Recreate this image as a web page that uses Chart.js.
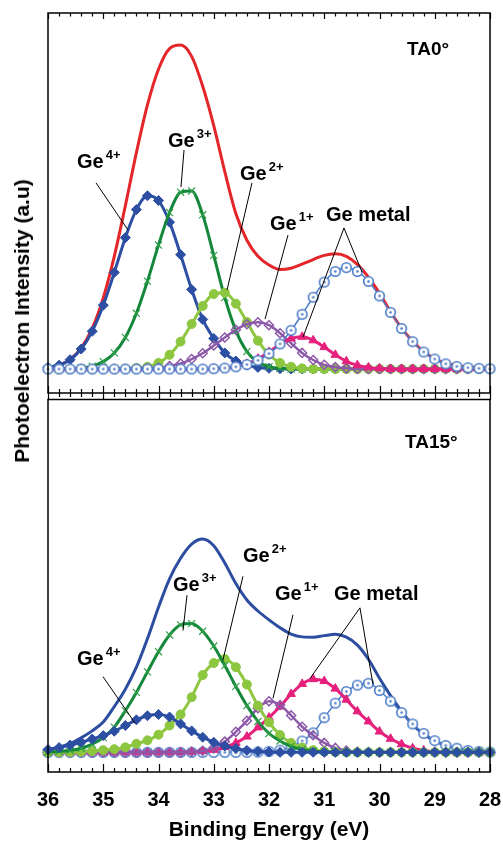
<!DOCTYPE html>
<html>
<head>
<meta charset="utf-8">
<script src="https://cdn.jsdelivr.net/npm/chart.js@4.4.1/dist/chart.umd.min.js"></script>
<style>
  html, body { margin: 0; padding: 0; background: #fff; }
  #wrap { position: relative; width: 503px; height: 841px; overflow: hidden; background: #fff; }
  #cTop { position: absolute; left: 0; top: 0; }
  #cBot { position: absolute; left: 0; top: 393px; }
  #ytitle { position: absolute; left: 22px; top: 321px; transform: translate(-50%, -50%) rotate(-90deg);
            font: bold 21px "Liberation Sans", Arial, sans-serif; white-space: nowrap; color: #000; }
</style>
</head>
<body>
<div id="wrap">
  <canvas id="cTop" width="503" height="400"></canvas>
  <canvas id="cBot" width="503" height="448"></canvas>
  <div id="ytitle">Photoelectron Intensity (a.u)</div>
</div>
<script>
// ---------------- DATA ----------------
const energy = [36.0,35.8,35.6,35.4,35.2,35.0,34.8,34.6,34.4,34.2,34.0,33.8,33.6,33.4,33.2,33.0,32.8,32.6,32.4,32.2,32.0,31.8,31.6,31.4,31.2,31.0,30.8,30.6,30.4,30.2,30.0,29.8,29.6,29.4,29.2,29.0,28.8,28.6,28.4,28.2,28.0];
const xTickValues = [36,35,34,33,32,31,30,29,28];

// Panel TA0°
const ta0Ge4   = [0.5,1.2,2.9,6.2,11.7,19.8,30.0,40.8,49.5,53.8,52.3,45.6,35.5,24.7,15.4,9.5,5.0,2.5,1.2,0.5,0.2,0.1,0,0,0,0,0,0,0,0,0,0,0,0,0,0,0,0,0,0,0];
const ta0Ge3   = [0,0,0.1,0.3,0.9,2.3,5.0,9.8,17.3,27.3,38.5,48.6,54.9,55.3,47.9,35.3,22.2,11.9,5.4,2.1,0.7,0.2,0,0,0,0,0,0,0,0,0,0,0,0,0,0,0,0,0,0,0];
const ta0Ge2   = [0,0,0,0,0,0,0,0.1,0.3,0.7,1.9,4.4,8.5,14.0,19.6,23.3,23.7,20.3,14.6,8.8,4.5,1.9,0.7,0.2,0,0,0,0,0,0,0,0,0,0,0,0,0,0,0,0,0];
const ta0Ge1   = [0,0,0,0,0,0,0,0,0.1,0.2,0.4,0.9,1.7,3.1,4.9,7.3,9.8,12.2,13.9,14.5,13.6,11.1,8.0,5.0,2.8,1.3,0.6,0.2,0,0,0,0,0,0,0,0,0,0,0,0,0];
const ta0MetalA = [0,0,0,0,0,0,0,0,0,0,0,0,0,0,0,0.1,0.3,0.7,1.6,3.2,5.3,7.7,9.5,10.0,8.9,6.8,4.4,2.4,1.2,0.5,0.2,0,0,0,0,0,0,0,0,0,0];
const ta0MetalB = [0,0,0,0,0,0,0,0,0,0,0,0,0,0,0,0.1,0.3,0.7,1.4,2.7,4.8,7.8,12.0,17.0,22.3,27.0,30.3,31.5,30.3,27.2,22.7,17.6,12.6,8.5,5.3,3.1,1.6,0.8,0.4,0.2,0.1];
const ta0Total = [0.5,1.2,3.0,6.5,12.6,22.1,35.0,50.7,67.2,82.0,93.1,99.5,100.6,97.1,87.8,75.6,61.3,48.3,40.0,35.0,32.3,30.9,31.3,32.6,34.0,35.3,35.8,35.0,32.5,28.5,23.5,17.8,12.7,8.6,5.4,3.2,1.8,1.0,0.6,0.4,0.3];

// Panel TA15°
const ta15Ge4   = [0.9,1.5,2.3,3.2,4.2,5.3,6.7,8.5,10.3,11.6,12.0,11.2,9.0,6.8,4.8,3.2,2.0,1.2,0.6,0.3,0.1,0,0,0,0,0,0,0,0,0,0,0,0,0,0,0,0,0,0,0,0];
const ta15Ge3   = [0.1,0.3,0.6,1.3,2.6,4.7,8.0,13.2,19.0,25.5,31.9,37.2,40.4,40.8,38.4,33.7,27.5,20.9,14.8,9.8,6.0,3.6,1.9,0.9,0.4,0.2,0.1,0,0,0,0,0,0,0,0,0,0,0,0,0,0];
const ta15Ge2   = [0,0,0.1,0.2,0.4,0.7,1.0,1.6,2.7,3.8,5.6,8.5,12.0,17.5,24.5,28.3,29.6,27.0,21.5,14.8,9.5,5.5,3.0,1.5,0.7,0.3,0.1,0,0,0,0,0,0,0,0,0,0,0,0,0,0];
const ta15Ge1   = [0,0,0,0,0,0,0,0,0,0,0,0,0,0.2,0.5,1.5,3.4,6.5,10.0,14.0,16.2,15.0,11.7,8.1,5.4,3.0,1.4,0.6,0.2,0.1,0,0,0,0,0,0,0,0,0,0,0];
const ta15MetalA = [0,0,0,0,0,0,0,0,0,0,0,0,0.1,0.2,0.4,0.8,1.7,3.0,5.0,7.9,11.0,14.5,18.5,21.7,23.2,22.6,20.2,16.7,13.0,9.8,6.6,4.3,2.6,1.3,0.6,0.2,0.1,0,0,0,0];
const ta15MetalB = [0,0,0,0,0,0,0,0,0,0,0,0,0,0,0,0,0,0,0,0.1,0.3,0.7,1.7,3.6,6.2,11.0,15.6,19.3,21.3,21.9,19.6,16.2,12.6,9.0,6.0,3.7,2.2,1.3,0.6,0.3,0.1];
const ta15Total = [0.8,1.7,2.8,4.6,6.8,9.6,14.5,20.0,27.0,36.0,46.0,55.0,61.5,66.0,67.6,65.5,60.0,53.5,48.3,44.8,42.0,39.5,37.5,36.6,36.5,37.0,37.4,36.5,34.0,29.5,23.5,18.0,13.0,8.8,5.8,3.6,2.2,1.2,0.6,0.3,0.1];

// ---------------- LABELS (positions in data units: energy, intensity) ----------------
const topNotes = [
  { text: 'Ge', sup: '4+', e: 35.475, v: 62.4, lines: [[35.131, 57.8, 34.552, 43.2]] },
  { text: 'Ge', sup: '3+', e: 33.828, v: 68.9, lines: [[33.538, 68.0, 33.593, 56.5]] },
  { text: 'Ge', sup: '2+', e: 32.525, v: 58.7, lines: [[32.308, 57.8, 32.760, 24.5]] },
  { text: 'Ge', sup: '1+', e: 31.982, v: 43.2, lines: [[31.656, 41.6, 32.072, 15.5]] },
  { text: 'Ge metal', e: 30.968, v: 46.0, lines: [[30.643, 43.8, 30.317, 30.1], [30.643, 43.8, 31.385, 9.9]] },
  { text: 'TA0°', e: 29.502, v: 97.5, size: 19 }
];
const botNotes = [
  { text: 'Ge', sup: '4+', e: 35.475, v: 27.7, lines: [[35.005, 24.0, 34.425, 9.3]] },
  { text: 'Ge', sup: '3+', e: 33.738, v: 51.1, lines: [[33.484, 49.8, 33.557, 38.6]] },
  { text: 'Ge', sup: '2+', e: 32.471, v: 60.4, lines: [[32.471, 55.8, 32.833, 29.3]] },
  { text: 'Ge', sup: '1+', e: 31.891, v: 48.3, lines: [[31.566, 43.6, 31.928, 17.1]] },
  { text: 'Ge metal', e: 30.824, v: 48.3, lines: [[30.353, 45.8, 31.258, 23.4], [30.353, 45.8, 30.118, 21.5]] },
  { text: 'TA15°', e: 29.538, v: 96.6, size: 19 }
];

// ---------------- STYLE ----------------
const FONT = '"Liberation Sans", Arial, sans-serif';
const COL = {
  ge4: '#2C4EA3', ge3: '#15873B', ge3pt: '#2FA048', ge2: '#8DC63F', ge1: '#8C59A9',
  pink: '#E6217D', circ: '#4C7CC8', red: '#E4262A', blue: '#2D4DA1'
};

function ringDot(color) {
  const c = document.createElement('canvas');
  c.width = 13; c.height = 13;
  const g = c.getContext('2d');
  g.fillStyle = '#fff'; g.strokeStyle = color; g.lineWidth = 1.6;
  g.beginPath(); g.arc(6.5, 6.5, 4.8, 0, Math.PI * 2); g.fill(); g.stroke();
  g.fillStyle = color;
  g.beginPath(); g.arc(6.5, 6.5, 1.3, 0, Math.PI * 2); g.fill();
  return c;
}
const ringImg = ringDot(COL.circ);

const pts = arr => energy.map((e, i) => ({ x: e, y: arr[i] }));
function ds(label, arr, o) {
  return Object.assign({ label, data: pts(arr), cubicInterpolationMode: 'monotone', clip: 6, fill: false }, o);
}

// order: lower "order" value is drawn on top
function datasets(s, totalColor, ord) {
  return [
    ds('Ge metal (b)', s.metalB, { order: ord[0], borderColor: COL.circ, borderWidth: 1.5, pointStyle: ringImg, pointRadius: 5 }),
    ds('Ge metal (a)', s.metalA, { order: ord[1], borderColor: COL.pink, borderWidth: 3, pointStyle: 'triangle', pointRadius: 5,
      pointBackgroundColor: COL.pink, pointBorderColor: COL.pink, pointBorderWidth: 1 }),
    ds('Ge1+', s.ge1, { order: ord[2], borderColor: COL.ge1, borderWidth: 2.5, pointStyle: 'rectRot', pointRadius: 4.5,
      pointBackgroundColor: 'rgba(255,255,255,0)', pointBorderColor: COL.ge1, pointBorderWidth: 1.5 }),
    ds('Ge2+', s.ge2, { order: ord[3], borderColor: COL.ge2, borderWidth: 3, pointStyle: 'circle', pointRadius: 4.5,
      pointBackgroundColor: COL.ge2, pointBorderColor: COL.ge2, pointBorderWidth: 1 }),
    ds('Ge3+', s.ge3, { order: ord[4], borderColor: COL.ge3, borderWidth: 3, pointStyle: 'crossRot', pointRadius: 5,
      pointBackgroundColor: COL.ge3pt, pointBorderColor: COL.ge3pt, pointBorderWidth: 1.2 }),
    ds('Ge4+', s.ge4, { order: ord[5], borderColor: COL.ge4, borderWidth: 3, pointStyle: 'rectRot', pointRadius: 5,
      pointBackgroundColor: COL.ge4, pointBorderColor: COL.ge4, pointBorderWidth: 1 }),
    ds('Total', s.total, { order: 10, borderColor: totalColor, borderWidth: 3, pointRadius: 0 })
  ];
}

function makeDeco(edges, notes) {
  return {
    id: 'deco',
    afterDraw(chart) {
      const { ctx, chartArea: a, scales: { x, y } } = chart;
      ctx.save();
      ctx.strokeStyle = '#000';
      ctx.lineWidth = 1.5;
      ctx.strokeRect(a.left, a.top, a.right - a.left, a.bottom - a.top);
      ctx.lineWidth = 1.2;
      ctx.beginPath();
      for (let k = 0; k <= 40; k++) {
        const v = 28 + k * 0.2;
        const major = k % 5 === 0;
        const px = Math.round(x.getPixelForValue(v)) + 0.5;
        edges.forEach(([yy, dir, maj, min]) => {
          ctx.moveTo(px, yy);
          ctx.lineTo(px, yy + dir * (major ? maj : min));
        });
      }
      ctx.stroke();
      ctx.fillStyle = '#000';
      ctx.strokeStyle = '#000';
      ctx.lineWidth = 1;
      notes.forEach(n => {
        if (n.lines) {
          ctx.beginPath();
          n.lines.forEach(([e1, v1, e2, v2]) => {
            ctx.moveTo(x.getPixelForValue(e1), y.getPixelForValue(v1));
            ctx.lineTo(x.getPixelForValue(e2), y.getPixelForValue(v2));
          });
          ctx.stroke();
        }
        const px = x.getPixelForValue(n.e), py = y.getPixelForValue(n.v);
        ctx.textAlign = 'left';
        ctx.textBaseline = 'alphabetic';
        ctx.font = 'bold ' + (n.size || 20) + 'px ' + FONT;
        ctx.fillText(n.text, px, py);
        if (n.sup) {
          const w = ctx.measureText(n.text).width;
          ctx.font = 'bold 13px ' + FONT;
          ctx.fillText(n.sup, px + w + 2, py - 9);
        }
      });
      ctx.restore();
    }
  };
}

function makeOptions(yMin, yMax, bottom, pad) {
  return {
    responsive: false, animation: false, devicePixelRatio: 1, events: [],
    layout: { padding: pad },
    plugins: { legend: { display: false }, tooltip: { enabled: false } },
    scales: {
      x: {
        type: 'linear', min: 28, max: 36, reverse: true, display: bottom,
        grid: { display: false, drawTicks: false }, border: { display: false },
        afterBuildTicks: s => { s.ticks = xTickValues.map(v => ({ value: v })); },
        afterFit: s => { if (bottom) { s.height = 69; s.paddingLeft = 0; s.paddingRight = 0; } },
        ticks: { font: { family: FONT, size: 20, weight: 'bold' }, color: '#000', padding: 16,
                 maxRotation: 0, autoSkip: false, callback: v => String(v) },
        title: { display: bottom, text: 'Binding Energy (eV)', color: '#000', padding: 0,
                 font: { family: FONT, size: 21, weight: 'bold', lineHeight: 1 } }
      },
      y: { type: 'linear', min: yMin, max: yMax, display: false }
    }
  };
}

new Chart(document.getElementById('cTop'), {
  type: 'line',
  data: { datasets: datasets({ ge4: ta0Ge4, ge3: ta0Ge3, ge2: ta0Ge2, ge1: ta0Ge1, metalA: ta0MetalA, metalB: ta0MetalB, total: ta0Total },
                             COL.red, [0, 1, 2, 3, 4, 5]) },
  options: makeOptions(-7.45, 110.56, false, { left: 48, right: 13, top: 13, bottom: 7 }),
  plugins: [makeDeco([[13, 1, 6, 3.5], [393, -1, 7, 4], [393, 1, 8, 4]], topNotes)]
});

new Chart(document.getElementById('cBot'), {
  type: 'line',
  data: { datasets: datasets({ ge4: ta15Ge4, ge3: ta15Ge3, ge2: ta15Ge2, ge1: ta15Ge1, metalA: ta15MetalA, metalB: ta15MetalB, total: ta15Total },
                             COL.blue, [5, 4, 3, 2, 1, 0]) },
  options: makeOptions(-6.23, 111.84, true, { left: 48, right: 13, top: 0, bottom: 0 }),
  plugins: [makeDeco([[379, -1, 8, 4]], botNotes)]
});
</script>
</body>
</html>
